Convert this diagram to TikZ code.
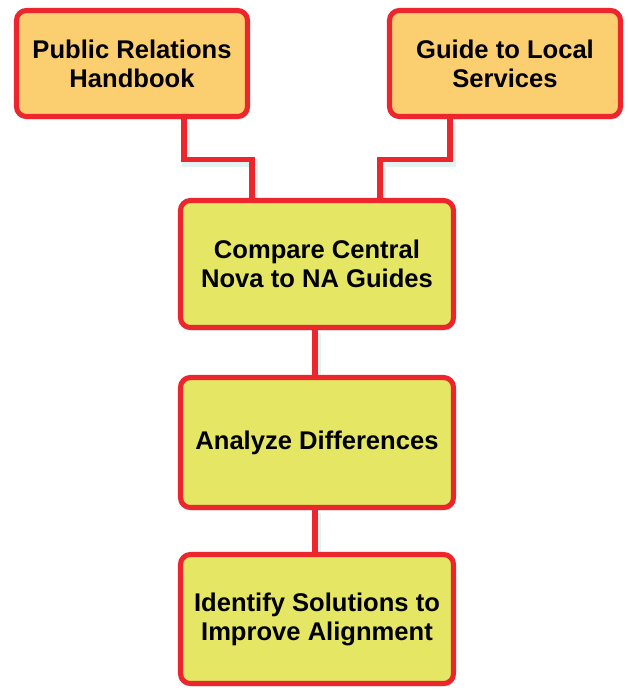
\documentclass[tikz,border=0pt]{standalone}
\usepackage{fontspec}
\setmainfont{Liberation Sans}
\definecolor{boxred}{RGB}{236,38,44}
\definecolor{srcorange}{RGB}{251,207,112}
\definecolor{stepyellow}{RGB}{228,230,100}
\usetikzlibrary{positioning,shadows,calc,backgrounds}

\begin{document}
\begin{tikzpicture}[every node/.style={font=\bfseries\fontsize{18.2}{20.6}\selectfont},
    box/.style={draw=boxred, line width=3.6pt, rounded corners=7pt, align=center,
        inner sep=0pt, drop shadow={opacity=0.35, shadow xshift=0.04cm, shadow yshift=-0.07cm}},
    link/.style={draw=boxred, line width=3.6pt,
        preaction={draw=teal!20, line width=6pt, opacity=0.5, transform canvas={shift={(0.05,-0.08)}}}}]
    \useasboundingbox (0,0) rectangle (15.7,-17.25);

    % Source documents
    \node[box, fill=srcorange, minimum width=5.775cm, minimum height=2.65cm] (prh) at (3.3,-1.5875) {Public Relations\\Handbook};
    \node[box, fill=srcorange, minimum width=5.775cm, minimum height=2.65cm] (gls) at (12.625,-1.5875) {Guide to Local\\Services};

    % Steps
    \node[box, fill=stepyellow, minimum width=6.825cm, minimum height=3.175cm] (cmp) at (7.925,-6.6) {Compare Central\\Nova to NA Guides};
    \node[box, fill=stepyellow, minimum width=6.825cm, minimum height=3.25cm] (ana) at (7.925,-11.0625) {Analyze Differences};
    \node[box, fill=stepyellow, minimum width=6.825cm, minimum height=3.225cm] (idf) at (7.925,-15.475) {Identify Solutions to\\Improve Alignment};

    % Connectors (behind the boxes)
    \begin{scope}[on background layer]
    \draw[link] ([xshift=1.3cm]prh.south) -- ++(0,-1.0125) -| ([xshift=-1.625cm]cmp.north);
    \draw[link] ([xshift=-1.375cm]gls.south) -- ++(0,-1.0125) -| ([xshift=1.575cm]cmp.north);
    \draw[link] ([xshift=-0.05cm]cmp.south) -- ([xshift=-0.05cm]ana.north);
    \draw[link] ([xshift=-0.05cm]ana.south) -- ([xshift=-0.05cm]idf.north);
    \end{scope}
\end{tikzpicture}
\end{document}
